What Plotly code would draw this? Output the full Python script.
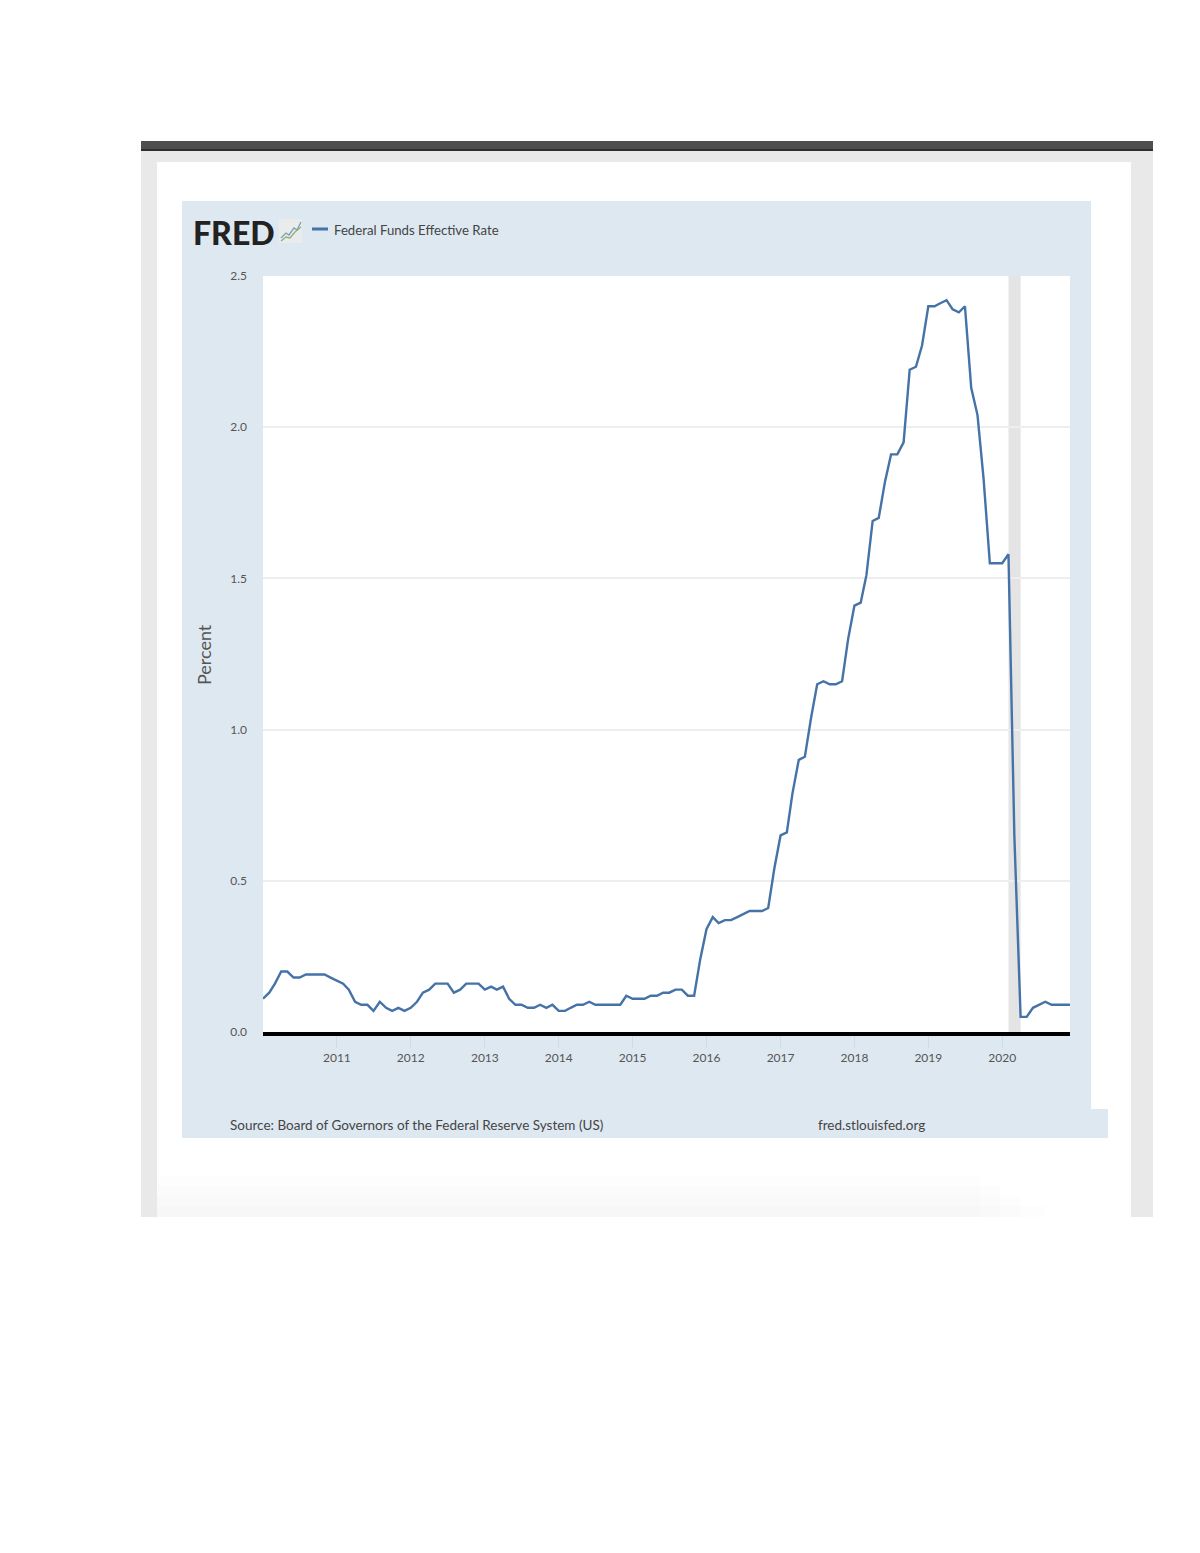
import plotly.graph_objects as go
import pandas as pd

W, H = 1200, 1553
series_name = "Federal Funds Effective Rate"
start_month = "2010-01-01"
rate_2010 = [.11, .13, .16, .20, .20, .18, .18, .19, .19, .19, .19, .18]
rate_2011 = [.17, .16, .14, .10, .09, .09, .07, .10, .08, .07, .08, .07]
rate_2012 = [.08, .10, .13, .14, .16, .16, .16, .13, .14, .16, .16, .16]
rate_2013 = [.14, .15, .14, .15, .11, .09, .09, .08, .08, .09, .08, .09]
rate_2014 = [.07, .07, .08, .09, .09, .10, .09, .09, .09, .09, .09, .12]
rate_2015 = [.11, .11, .11, .12, .12, .13, .13, .14, .14, .12, .12, .24]
rate_2016 = [.34, .38, .36, .37, .37, .38, .39, .40, .40, .40, .41, .54]
rate_2017 = [.65, .66, .79, .90, .91, 1.04, 1.15, 1.16, 1.15, 1.15, 1.16, 1.30]
rate_2018 = [1.41, 1.42, 1.51, 1.69, 1.70, 1.82, 1.91, 1.91, 1.95, 2.19, 2.20, 2.27]
rate_2019 = [2.40, 2.40, 2.41, 2.42, 2.39, 2.38, 2.40, 2.13, 2.04, 1.83, 1.55, 1.55]
rate_2020 = [1.55, 1.58, .65, .05, .05, .08, .09, .10, .09, .09, .09, .09]
rates = (rate_2010 + rate_2011 + rate_2012 + rate_2013 + rate_2014 + rate_2015
         + rate_2016 + rate_2017 + rate_2018 + rate_2019 + rate_2020)
months = pd.date_range(start_month, periods=len(rates), freq="MS")
year_ticks = [f"{y}-01-01" for y in range(2011, 2021)]
year_labels = [str(y) for y in range(2011, 2021)]
y_ticks = [0, .5, 1, 1.5, 2, 2.5]
y_labels = ["0.0", "0.5", "1.0", "1.5", "2.0", "2.5"]
recession = ("2020-02-01", "2020-04-01")

NARROW = "Lato, Liberation Sans, sans-serif"
TXT = "#555555"
PANEL = "#dee8f1"


def px(x):
    return x / W


def py(y):
    return 1 - y / H


def rect(x0, y0, x1, y1, color, opacity=1):
    return dict(type="rect", xref="paper", yref="paper", layer="below",
                x0=px(x0), x1=px(x1), y0=py(y0), y1=py(y1),
                fillcolor=color, opacity=opacity, line=dict(width=0))


def poly(points, color, width=1.3):
    d = "M " + " L ".join(f"{px(a):.5f},{py(b):.5f}" for a, b in points)
    return dict(type="path", xref="paper", yref="paper", path=d,
                line=dict(color=color, width=width), fillcolor="rgba(0,0,0,0)")


shapes = [
    rect(141, 151, 1153, 1217, "#e9e9e9"),
    rect(141, 141, 1153, 149, "#4f4f4f"),
    rect(141, 149, 1153, 151, "#2e2e2e"),
    rect(157, 162, 1131, 1217, "#ffffff"),
]
# soft shadow fading towards the bottom and right of the white card
for top, right in [(1176, 980), (1186, 1000), (1196, 1020), (1206, 1045)]:
    shapes.append(rect(157, top, right, 1217, "#000000", .009))
shapes += [
    rect(182, 201, 1091, 1138, PANEL),
    rect(1091, 1109, 1108, 1138, PANEL),
    rect(263, 276, 1070, 1032, "#ffffff"),
    dict(type="rect", xref="x", yref="paper", layer="between",
         x0=recession[0], x1=recession[1], y0=py(1032), y1=py(276),
         fillcolor="#e4e4e4", line=dict(width=0)),
    # FRED icon
    rect(279, 219, 302, 243, "#e9ecea"),
    poly([(281, 238), (286, 233), (289, 235), (294, 228), (297, 230), (301, 222)], "#7f9db8"),
    poly([(281, 241), (286, 237), (290, 238), (295, 232), (301, 227)], "#8fb07c"),
    # legend key
    poly([(312, 229), (328, 229)], "#4572a7", 3),
]


def note(text, x, y, size, color=TXT, anchor="left", family=NARROW, angle=0, weight=None):
    font = dict(family=family, size=size, color=color)
    if weight:
        font["weight"] = weight
    return dict(text=text, x=px(x), y=py(y), xref="paper", yref="paper",
                xanchor=anchor, yanchor="middle", showarrow=False, textangle=angle,
                font=font)


annotations = [
    note("FRED", 191, 232, 32, "#222222", weight=900),
    note(series_name, 332, 230, 13.2, "#444444"),
    note("Percent", 204, 655, 18, TXT, "center", angle=-90),
    note("Source: Board of Governors of the Federal Reserve System (US)", 228, 1125, 13.5, "#444444"),
    note("fred.stlouisfed.org", 816, 1125, 13.5, "#444444"),
]

fig = go.Figure(go.Scatter(x=months, y=rates, mode="lines", name=series_name,
                           line=dict(color="#4572a7", width=2.4), showlegend=False))
fig.update_layout(
    width=W, height=H, margin=dict(l=0, r=0, t=0, b=0, autoexpand=False), autosize=False,
    paper_bgcolor="#ffffff", plot_bgcolor="rgba(0,0,0,0)",
    shapes=shapes, annotations=annotations,
    xaxis=dict(domain=[px(263), px(1070)], range=[months[0], months[-1]], automargin=False,
               tickvals=year_ticks, ticktext=year_labels, ticks="outside", ticklen=12,
               tickcolor="#cfdbe6", tickwidth=1, showgrid=False, showline=True,
               linecolor="#000000", linewidth=4, anchor="y",
               tickfont=dict(family=NARROW, size=12, color=TXT)),
    yaxis=dict(domain=[py(1032), py(276)], range=[0, 2.5], automargin=False,
               tickvals=y_ticks, ticktext=y_labels, ticks="", ticklabelstandoff=15,
               gridcolor="#eeeeee", gridwidth=2, zeroline=False, showline=False,
               tickfont=dict(family=NARROW, size=12, color=TXT)),
)
fig.write_html("out.html", config={"displayModeBar": False},
               post_script="document.body.style.margin='0';document.body.style.overflow='hidden';")
